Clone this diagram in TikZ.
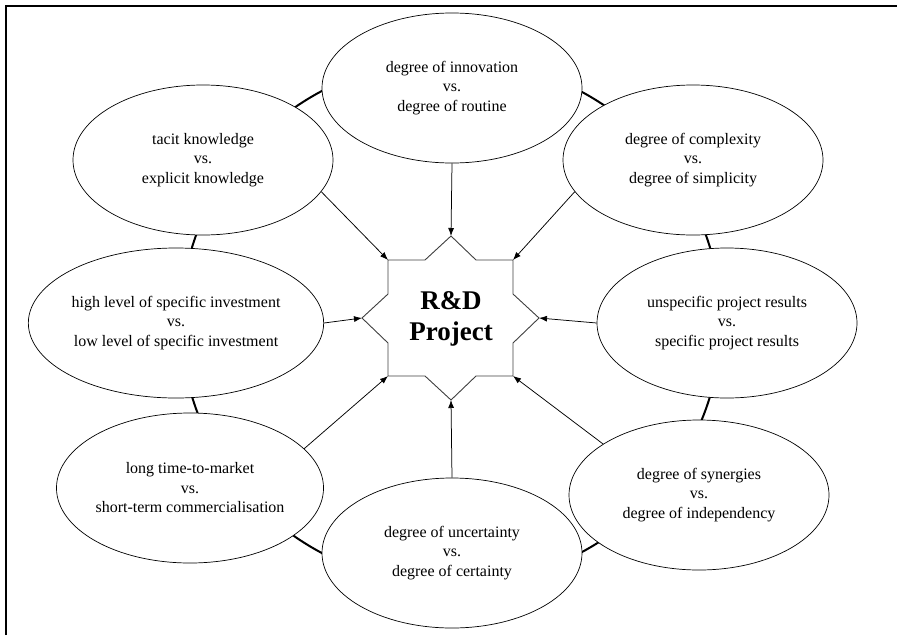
\documentclass[tikz,border=0pt]{standalone}
\usepackage{fontspec}
\setmainfont{Liberation Serif}
\usetikzlibrary{arrows.meta,shapes.geometric}

\begin{document}
\begin{tikzpicture}[x=1pt,y=-1pt,
  factor/.style={draw, ellipse, line width=0.7pt, fill=white,
    minimum width=260pt, minimum height=150pt, inner sep=0pt,
    align=center, font=\fontsize{16}{19.5}\selectfont},
  ring/.style={line width=2pt},
  feed/.style={-{Latex[length=8pt,width=6pt]}, line width=0.75pt},
  frame/.style={line width=2pt},
  starline/.style={draw=black!75, line width=0.9pt, fill=white},
  core/.style={align=center, font=\fontsize{27}{31}\selectfont\bfseries}
]
\useasboundingbox (0,0) rectangle (897,635);

% frame
\draw[frame] (5.5,635) -- (5.5,5.5) -- (897,5.5);

% ring linking the factors
\draw[ring] (451,322) ellipse [x radius=270, y radius=263];

% factors
\node[factor] (top) at (452,88)  {degree of innovation\\vs.\\degree of routine};
\node[factor] (tl)  at (203,160) {tacit knowledge\\vs.\\explicit knowledge};
\node[factor] (tr)  at (693,160) {degree of complexity\\vs.\\degree of simplicity};
\node[factor] (lf)  at (176,323) {high level of specific investment\\vs.\\low level of specific investment};
\node[factor] (rt)  at (727,323) {unspecific project results\\vs.\\specific project results};
\node[factor] (bl)  at (190,488) {long time-to-market\\vs.\\short-term commercialisation};
\node[factor] (br)  at (699,495) {degree of synergies\\vs.\\degree of independency};
\node[factor] (bt)  at (452,553) {degree of uncertainty\\vs.\\degree of certainty};

% eight-pointed star
\coordinate (sN)  at (451,236);
\coordinate (tA)  at (476,260);
\coordinate (sNE) at (513,260);
\coordinate (rA)  at (513,294);
\coordinate (sE)  at (539,318);
\coordinate (rB)  at (513,343);
\coordinate (sSE) at (513,376);
\coordinate (bA)  at (476,376);
\coordinate (sS)  at (451,400);
\coordinate (bB)  at (425,376);
\coordinate (sSW) at (388,376);
\coordinate (lA)  at (388,343);
\coordinate (sW)  at (362,318);
\coordinate (lB)  at (388,294);
\coordinate (sNW) at (388,260);
\coordinate (tB)  at (425,260);
\draw[starline] (sN) -- (tA) -- (sNE) -- (rA) -- (sE) -- (rB) -- (sSE)
  -- (bA) -- (sS) -- (bB) -- (sSW) -- (lA) -- (sW) -- (lB) -- (sNW)
  -- (tB) -- cycle;
\node[core] (rd) at (451,319) {R\&D\\Project};

% influences on the project
\draw[feed] (top.south) -- (sN);
\draw[feed] (tl.-15)    -- (sNW);
\draw[feed] (tr.-165)   -- (sNE);
\draw[feed] (lf.east)   -- (sW);
\draw[feed] (rt.west)   -- (sE);
\draw[feed] (bl.19)     -- (sSW);
\draw[feed] (br.152)    -- (sSE);
\draw[feed] (bt.north)  -- (sS);
\end{tikzpicture}
\end{document}
